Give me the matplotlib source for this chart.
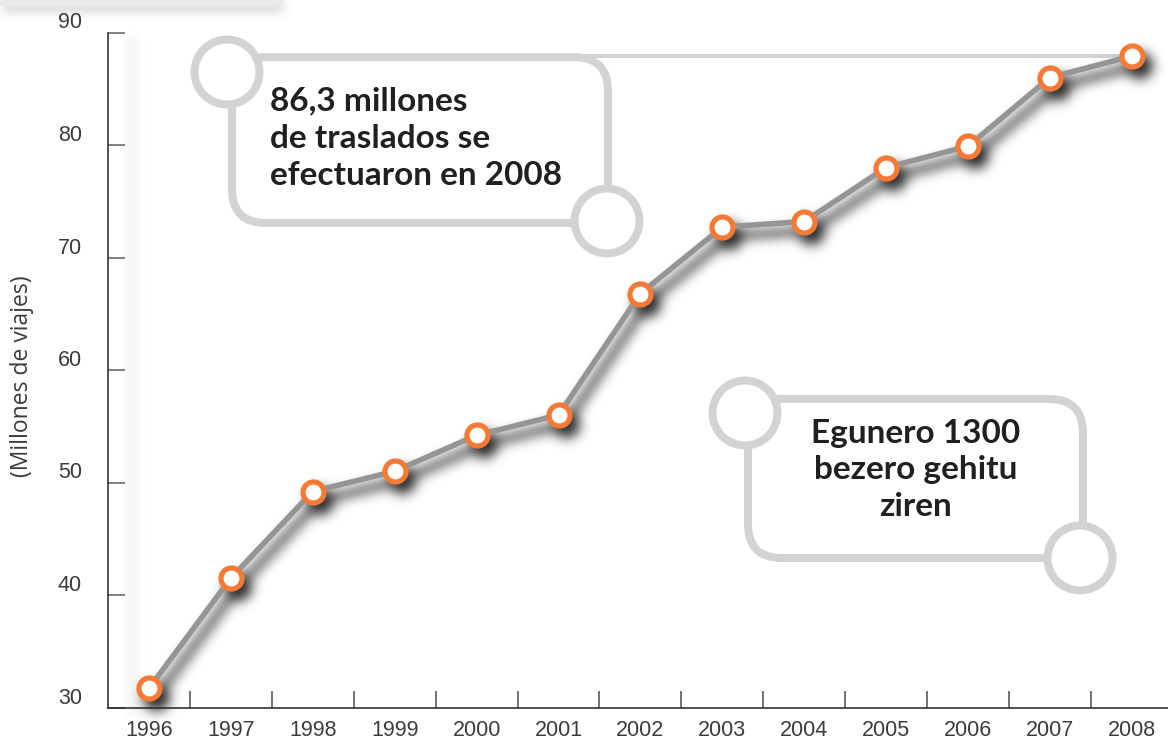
import numpy as np
import matplotlib
matplotlib.use('Agg')
import matplotlib.pyplot as plt
from matplotlib.patches import FancyBboxPatch, Circle
from matplotlib.transforms import ScaledTranslation

# < -- Data

years = [1996, 1997, 1998, 1999, 2000, 2001, 2002, 2003, 2004, 2005, 2006, 2007, 2008]
trips = [31.7, 41.5, 49.2, 51.0, 54.2, 56.0, 66.8, 72.7, 73.2, 78.0, 79.9, 86.0, 87.9]
y_ticks = [30, 40, 50, 60, 70, 80, 90]
y_label = '(Millones de viajes)'
note_top = '86,3 millones\nde traslados se\nefectuaron en 2008'
note_bottom = 'Egunero 1300\nbezero gehitu\nziren'

LINE = '#949597'
ORANGE = '#f47a36'
BOX = '#d2d3d5'
INK = '#231f20'
TICK_INK = '#3c3c3c'

W, H = 1168, 739
px = 72 / 100  # points per pixel


def gauss(sigma):
    r = int(3 * sigma)
    x = np.arange(-r, r + 1)
    k = np.exp(-x ** 2 / (2.0 * sigma ** 2))
    return k / k.sum()


def drop_shadow(dx, dy, sigma, alpha):
    # agg filter: blurred, offset copy of the artist's alpha
    def filt(im, dpi):
        pad = int(3 * sigma) + max(abs(dx), abs(dy)) + 2
        a = np.pad(im[:, :, 3], pad)
        k = gauss(sigma)
        a = np.apply_along_axis(lambda r: np.convolve(r, k, mode='same'), 0, a)
        a = np.apply_along_axis(lambda r: np.convolve(r, k, mode='same'), 1, a)
        a = np.roll(np.roll(a, dx, axis=1), dy, axis=0)
        out = np.zeros(a.shape + (4,))
        out[..., 3] = np.clip(a * alpha, 0, 1)
        return out, -pad, -pad
    return filt


fig = plt.figure(figsize=(W / 100, H / 100), dpi=100)

# overlay in pixel units for the callout boxes
ov = fig.add_axes([0, 0, 1, 1], zorder=1)
ov.set_xlim(0, W)
ov.set_ylim(H, 0)
ov.axis('off')

ax = fig.add_axes([108 / W, (H - 707.5) / H, 1 - 108 / W, (707.5 - 32.5) / H], zorder=2)
ax.patch.set_alpha(0)
ax.set_xlim(1995.5, 2008.44)
ax.set_ylim(30, 90)

# < -- line with shadow

sh, = ax.plot(years, trips, color='black', lw=7 * px, marker='o', ms=21 * px,
              mfc='black', mec='black', mew=6 * px, zorder=2, clip_on=False)
sh.set_agg_filter(drop_shadow(7, 9, 6, 0.85))
sh.set_rasterized(True)

ax.plot(years, trips, color=LINE, lw=5.5 * px, zorder=3, clip_on=False,
        solid_capstyle='round')
ax.plot(years, trips, ls='none', marker='o', ms=21 * px, mfc='white',
        mec=ORANGE, mew=5.2 * px, zorder=4, clip_on=False)

# < -- axes

for s in ['top', 'right']:
    ax.spines[s].set_visible(False)
for s in ['left', 'bottom']:
    ax.spines[s].set_color('#2b2b2b')
    ax.spines[s].set_linewidth(1.6 * px)

# soft shadow along the left spine
ssp, = ax.plot([0.012, 0.012], [0.0, 1.0], transform=ax.transAxes, color='black',
               lw=4 * px, zorder=1, clip_on=False)
ssp.set_agg_filter(drop_shadow(12, 6, 6, 0.15))
ssp.set_rasterized(True)

ax.set_xticks(years)
ax.set_xticklabels([str(y) for y in years])
ax.set_xticks([y + 0.5 for y in years[:-1]], minor=True)
ax.tick_params(axis='x', which='major', length=0, pad=9, labelsize=15.5, labelcolor=TICK_INK)
ax.tick_params(axis='x', which='minor', direction='in', length=17 * px,
               width=1.6 * px, color='#555555')

ax.set_yticks(y_ticks)
ax.set_yticklabels([str(v) for v in y_ticks])
ax.tick_params(axis='y', direction='in', length=17 * px, width=1.6 * px,
               color='#666666', pad=26 * px, labelsize=15.5, labelcolor=TICK_INK)
lift = ScaledTranslation(0, 12 / 100, fig.dpi_scale_trans)
for t in ax.get_yticklabels():
    t.set_transform(t.get_transform() + lift)
    t.set_fontfamily('Liberation Sans')
for t in ax.get_xticklabels():
    t.set_fontfamily('Liberation Sans')

fig.text(22 / W, 1 - 376 / H, y_label, rotation=90, ha='center', va='center',
         fontsize=16.5, color=TICK_INK, family='Open Sans')

# < -- cropped banner at the top-left edge

band = FancyBboxPatch((-40, -60), 325, 66, boxstyle='round,pad=0,rounding_size=12',
                      fc='#e9e9ea', ec='none', zorder=0)
ov.add_patch(band)
band_sh = FancyBboxPatch((-40, -60), 325, 66, boxstyle='round,pad=0,rounding_size=12',
                         fc='black', ec='none', zorder=-1)
band_sh.set_agg_filter(drop_shadow(3, 5, 5, 0.25))
band_sh.set_rasterized(True)
ov.add_patch(band_sh)

# < -- callouts

x_last, y_last = ax.transData.transform((years[-1], trips[-1]))
y_last = H - y_last

bw = 8 * px


def callout(x0, y0, x1, y1, c0, c1):
    ov.add_patch(FancyBboxPatch((x0, y0), x1 - x0, y1 - y0,
                                boxstyle='round,pad=0,rounding_size=34',
                                fc='white', ec=BOX, lw=bw, zorder=2))
    for c in (c0, c1):
        ov.add_patch(Circle(c, 32.5, fc='white', ec=BOX, lw=bw, zorder=3))


# connector to the 2008 point
ov.plot([580, x_last - 10], [y_last, y_last], color=BOX, lw=4 * px, zorder=1)
callout(232, y_last + 1, 608, 223, (227, 72), (607, 221))
ov.text(270, 138, note_top, ha='left', va='center', fontsize=24, fontweight='bold',
        family='Lato', color=INK, linespacing=1.35, zorder=4)

callout(748, 399, 1083, 558, (745, 413), (1080, 558))
ov.text(916, 470, note_bottom, ha='center', va='center', fontsize=24,
        fontweight='bold', family='Lato', color=INK, linespacing=1.3,
        multialignment='center', zorder=4)

fig.savefig('out.png', dpi=100)
